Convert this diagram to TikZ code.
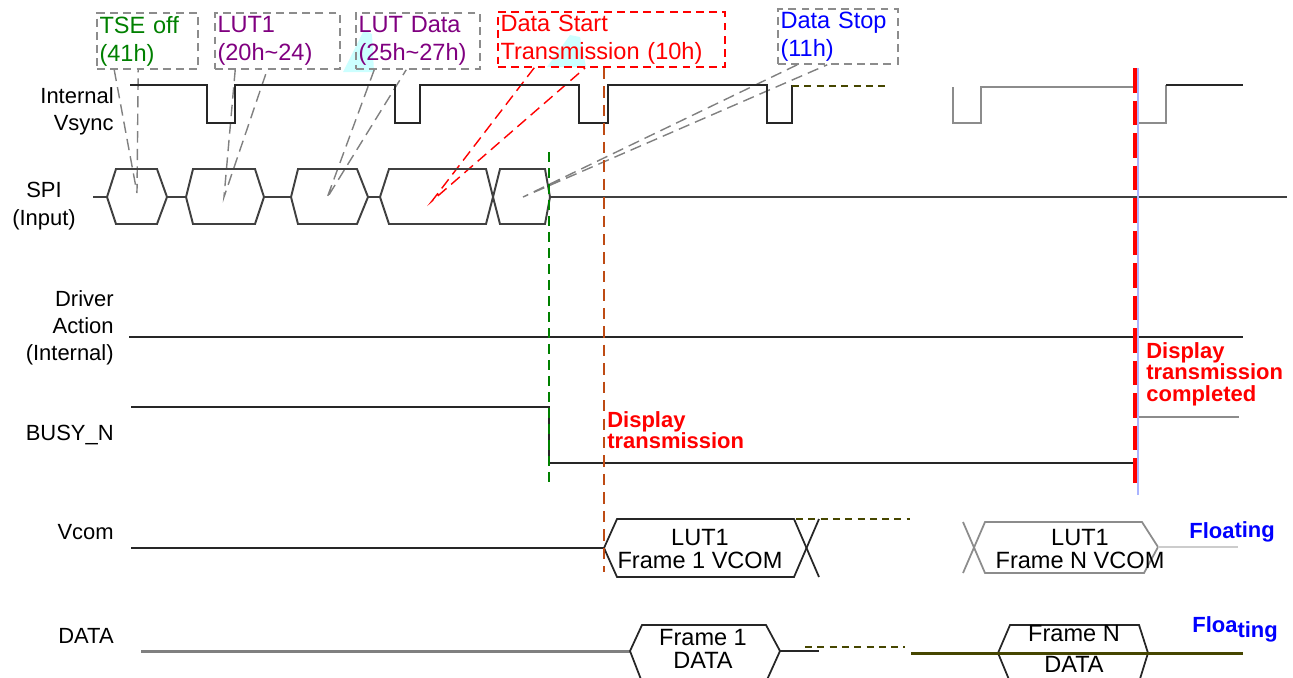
\documentclass[tikz,border=0pt]{standalone}
\usepackage{fontspec}
\setsansfont{Liberation Sans}
\definecolor{tsegreen}{RGB}{0,128,0}
\definecolor{lutpurple}{RGB}{128,0,128}
\definecolor{olivedark}{RGB}{70,70,0}
\definecolor{brownmark}{RGB}{190,75,20}
\definecolor{cyanblob}{RGB}{204,255,255}
\definecolor{bluemark}{RGB}{170,180,255}
\begin{document}
\begin{tikzpicture}[x=0.02cm, y=-0.02cm, font=\sffamily\fontsize{12.5}{15.5}\selectfont,
    sig/.style={draw=black!85, line width=1pt},
    graysig/.style={draw=black!45, line width=1pt},
    spi/.style={draw=black!75, line width=1.1pt},
    olivedash/.style={draw=olivedark, line width=1pt, dash pattern=on 4pt off 3pt},
    callout/.style={draw=black!45, line width=0.9pt, dash pattern=on 4.5pt off 3pt, inner xsep=0.05cm, inner ysep=0pt, align=left, minimum height=1.12cm, font=\sffamily\fontsize{13.4}{16}\selectfont},
    ptr/.style={draw=black!50, line width=0.8pt, dash pattern=on 6.5pt off 3.5pt},
    redptr/.style={draw=red, line width=0.8pt, dash pattern=on 6.5pt off 3.5pt},
    lbl/.style={anchor=east, align=right, inner sep=0pt},
    hextxt/.style={align=center, inner sep=0pt, font=\sffamily\fontsize{13.4}{13}\selectfont},
    boldred/.style={anchor=north west, align=left, inner sep=0pt, text=red, font=\sffamily\bfseries\fontsize{12.5}{12.3}\selectfont},
    floatlbl/.style={anchor=base west, inner sep=0pt, text=blue, font=\sffamily\bfseries\fontsize{12.5}{15}\selectfont}]
    \useasboundingbox (0,0) rectangle (1293,677);

    \fill[cyanblob] (343,72) -- (364,30) -- (372,34) -- (374,72) -- cycle;
    \fill[cyanblob] (547,67) -- (570,35) -- (580,37) -- (586,67) -- cycle;

    \node (tse) at (147.5,41) [callout, text=tsegreen, text width=1.92cm] {TSE off\\(41h)};
    \node (lut1) at (277.5,41) [callout, text=lutpurple, text width=2.4cm] {LUT1\\(20h\textasciitilde 24)};
    \node (lutdata) at (418,41) [callout, text=lutpurple, text width=2.38cm] {LUT Data\\(25h\textasciitilde 27h)};
    \node (dstart) at (611.5,39.5) [callout, draw=red, text=red, text width=4.44cm, minimum height=1.1cm] {Data Start\\Transmission (10h)};
    \node (dstop) at (838,36.5) [callout, text=blue, text width=2.3cm, minimum height=1.1cm] {Data Stop\\(11h)};

    \coordinate (pTSE) at (137,193);
    \coordinate (pLUT) at (224,197);
    \coordinate (pLUTdata) at (327,198);
    \coordinate (pStart) at (432,201);
    \coordinate (pStop) at (523,197);
    \draw[ptr] ([xshift=0.36cm]tse.south west) -- (pTSE) -- ([xshift=0.84cm]tse.south west);
    \draw[ptr] ([xshift=0.42cm]lut1.south west) -- (pLUT) -- ([xshift=1.06cm]lut1.south west);
    \draw[ptr] ([xshift=0.38cm]lutdata.south west) -- (pLUTdata) -- ([xshift=1.02cm]lutdata.south west);
    \draw[redptr] ([xshift=0.74cm]dstart.south west) -- (pStart) -- ([xshift=1.76cm]dstart.south west);
    \draw[ptr] ([xshift=0.4cm]dstop.south west) -- (pStop) -- ([xshift=1.0cm]dstop.south west);

    \node (vsyncL) at (114,111) [lbl] {Internal\\Vsync};
    \node (spiL) at (44,206) [align=center, inner sep=0pt] {SPI\\(Input)};
    \node (drvL) at (114,328) [lbl] {Driver\\Action\\(Internal)};
    \node (busyL) at (114,435) [lbl] {BUSY\_N};
    \node (vcomL) at (114,532) [lbl] {Vcom};
    \node (dataL) at (114,636) [lbl] {DATA};

    \draw[sig] (130,85) -- (207,85) -- (207,123) -- (235,123) -- (235,85) -- (395,85) -- (395,123) -- (420,123) -- (420,85) -- (579,85) -- (579,123) -- (608,123) -- (608,85) -- (767,85) -- (767,123) -- (792,123) -- (792,85);
    \draw[olivedash] (792,86) -- (887,86);
    \draw[graysig] (953,87) -- (953,123) -- (981,123) -- (981,87) -- (1138,87) -- (1138,123) -- (1166,123) -- (1166,85);
    \draw[sig] (1166,85) -- (1243,85);

    \draw[spi] (93,197) -- (107,197) (167,197) -- (186,197) (264,197) -- (291,197) (368,197) -- (380,197) (550,197) -- (1287,197);
    \foreach \a/\b/\c/\d in {107/116/157/167, 186/193/255/264, 291/298/357/368, 380/389/486/493, 493/500/545/550}
        \draw[spi] (\a,197) -- (\b,169) -- (\c,169) -- (\d,197) -- (\c,224) -- (\b,224) -- cycle;

    \draw[sig] (129,337) -- (1243,337);
    \draw[sig] (131,407) -- (549,407) -- (549,463) -- (1136,463);
    \draw[graysig] (1138,417) -- (1239,417);

    \draw[sig] (131,548) -- (604,548) -- (617,519) -- (794,519) -- (819,577);
    \draw[sig] (604,548) -- (617,577) -- (794,577) -- (819,519);
    \draw[olivedash] (796,519) -- (910,519);
    \draw[graysig] (963,522) -- (985,573) -- (1144,573) -- (1158,547) -- (1142,522) -- (985,522) -- (963,573);
    \draw[black!20, line width=1pt] (1158,547) -- (1238,547);
    \node (vcom1) at (700,549) [hextxt] {LUT1\\Frame 1 VCOM};
    \node (vcomN) at (1080,549) [hextxt] {LUT1\\Frame N VCOM};

    \draw[black!50, line width=1.7pt] (141,651) -- (630,651);
    \draw[sig] (630,651) -- (642,625) -- (766,625) -- (780,651) -- (766,682) -- (642,682) -- cycle;
    \draw[sig] (780,651) -- (819,651);
    \draw[olivedash] (805,647) -- (905,647);
    \draw[sig] (998,653) -- (1010,625) -- (1139,625) -- (1148,653) -- (1139,682) -- (1010,682) -- cycle;
    \draw[olivedark, line width=1.7pt] (911,653) -- (1243,653);
    \node (data1) at (703,649) [hextxt] {Frame 1\\DATA};
    \node (dataN) at (1074,649) [hextxt] {Frame N\\[5pt]DATA};

    \draw[tsegreen, line width=1.1pt, dash pattern=on 5.7pt off 3.4pt] (549,152) -- (549,487);
    \draw[brownmark, line width=1.1pt, dash pattern=on 6.5pt off 4pt] (604,68) -- (604,572);
    \draw[bluemark, line width=1.2pt] (1138,68) -- (1138,495);
    \draw[red, line width=2.2pt, dash pattern=on 14pt off 4.5pt] (1135,68) -- (1135,485);

    \node (dispL) at (607,411) [boldred] {Display\\transmission};
    \node (doneL) at (1146,342) [boldred] {Display\\transmission\\completed};
    \node (floatV) at (1189,538) [floatlbl] {Floa\raisebox{0.02cm}{ting}};
    \node (floatD) at (1192,632) [floatlbl] {Floa\raisebox{-0.1cm}{ting}};
\end{tikzpicture}
\end{document}
